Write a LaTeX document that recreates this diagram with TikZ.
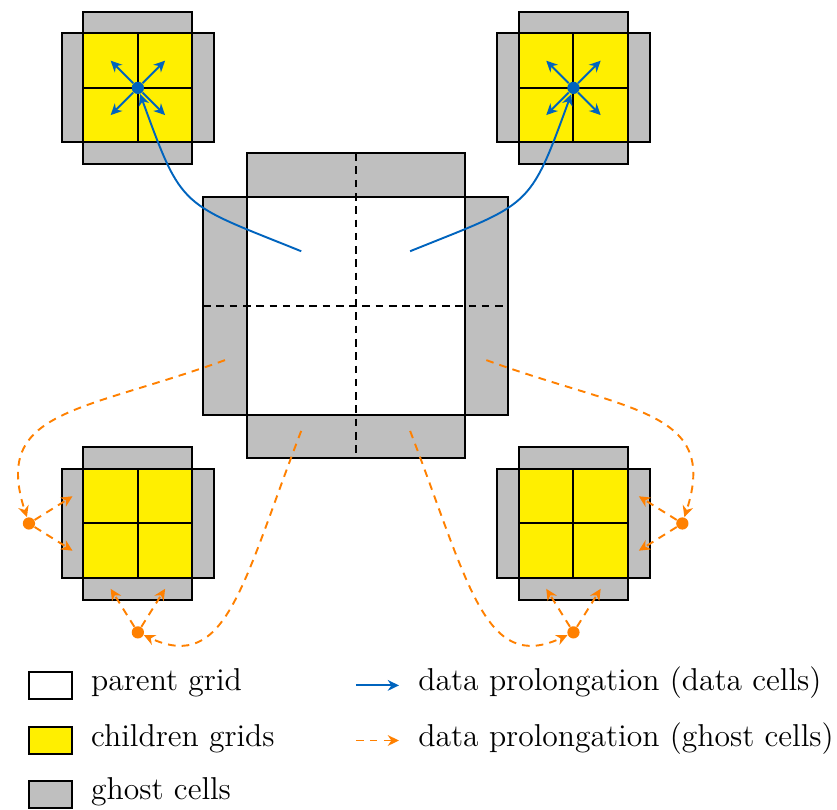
\documentclass[tikz,border=0pt]{standalone}
\usetikzlibrary{arrows.meta,calc}

\definecolor{ghostgray}{RGB}{191,191,191}
\definecolor{childyellow}{RGB}{255,239,0}
\definecolor{prolblue}{RGB}{0,100,190}
\definecolor{prolorange}{RGB}{255,128,0}

\tikzset{
  outline/.style={draw=black, line width=0.8pt},
  ghostcell/.style={outline, fill=ghostgray},
  childcell/.style={outline, fill=childyellow},
  parentcell/.style={outline, fill=white},
  splitline/.style={draw=black, line width=0.8pt, dash pattern=on 3pt off 2.2pt},
  tip/.style={-{Stealth[length=4.4pt,width=4.2pt,inset=1.4pt]}},
  bluearrow/.style={tip, draw=prolblue, line width=0.75pt},
  orangearrow/.style={tip, draw=prolorange, line width=0.75pt, dash pattern=on 3pt off 2.4pt},
  bluedot/.style={circle, fill=prolblue, inner sep=0pt, minimum size=4.8pt},
  orangedot/.style={circle, fill=prolorange, inner sep=0pt, minimum size=4.8pt},
  legbox/.style={outline, minimum width=0.6cm, minimum height=0.375cm, inner sep=0pt},
  legtext/.style={anchor=mid west, inner sep=0pt, font=\fontsize{12.4pt}{15pt}\selectfont},
  childgrid/.pic={
    \path[ghostcell] (-0.5,0.5) rectangle (0.5,0.7);
    \path[ghostcell] (-0.5,-0.7) rectangle (0.5,-0.5);
    \path[ghostcell] (-0.7,-0.5) rectangle (-0.5,0.5);
    \path[ghostcell] (0.5,-0.5) rectangle (0.7,0.5);
    \path[childcell] (-0.5,-0.5) rectangle (0.5,0.5);
    \draw[line width=0.8pt] (0,-0.5) -- (0,0.5) (-0.5,0) -- (0.5,0);
  }
}

\begin{document}
\begin{tikzpicture}[x=1.5cm, y=1.5cm]
\useasboundingbox (-3.266,-4.622) rectangle (4.420,2.807);

% parent grid with its ghost layer
\path[ghostcell] (-1,1) rectangle (1,1.4);
\path[ghostcell] (-1,-1.4) rectangle (1,-1);
\path[ghostcell] (-1.4,-1) rectangle (-1,1);
\path[ghostcell] (1,-1) rectangle (1.4,1);
\path[parentcell] (-1,-1) rectangle (1,1);
\draw[splitline] (0,1.4) -- (0,-1.4);
\draw[splitline] (-1.4,0) -- (1.4,0);

% the four children grids
\pic at (-2,2) {childgrid};
\pic at (2,2) {childgrid};
\pic at (-2,-2) {childgrid};
\pic at (2,-2) {childgrid};

% prolongation of data cells (upper children)
\node[bluedot] (tl) at (-2,2) {};
\node[bluedot] (tr) at (2,2) {};
\foreach \c in {tl,tr}{
  \foreach \dx/\dy [count=\k] in {-1/1,1/1,-1/-1,1/-1}{
    \coordinate (\c-\k) at ($(\c)+(0.25*\dx,0.25*\dy)$);
  }
}
\foreach \c in {tl,tr}{
  \foreach \k in {1,...,4}{
    \draw[bluearrow] (\c) -- (\c-\k);
  }
}
\coordinate (srcTL) at (-0.5,0.5);
\coordinate (srcTR) at (0.5,0.5);
\draw[bluearrow] (srcTL) .. controls +(158:1.2) and +(-70:1.2) .. (tl);
\draw[bluearrow] (srcTR) .. controls +(22:1.2) and +(-110:1.2) .. (tr);

% prolongation of ghost cells (lower children)
\node[orangedot] (blw) at (-3,-2) {};
\node[orangedot] (bls) at (-2,-3) {};
\node[orangedot] (bre) at (3,-2) {};
\node[orangedot] (brs) at (2,-3) {};

\coordinate (gL) at (-1.2,-0.5);
\coordinate (gR) at (1.2,-0.5);
\coordinate (gBL) at (-0.5,-1.15);
\coordinate (gBR) at (0.5,-1.15);
\draw[orangearrow] (gL) .. controls +(200:1.4) and +(108:1.1) .. (blw);
\draw[orangearrow] (gR) .. controls +(-20:1.4) and +(72:1.1) .. (bre);
\draw[orangearrow] (gBL) .. controls +(-111:1.5) and +(-25:0.9) .. (bls);
\draw[orangearrow] (gBR) .. controls +(-69:1.5) and +(-155:0.9) .. (brs);

\coordinate (blw1) at (-2.6,-1.75);
\coordinate (blw2) at (-2.6,-2.25);
\coordinate (bls1) at (-2.25,-2.6);
\coordinate (bls2) at (-1.75,-2.6);
\coordinate (bre1) at (2.6,-1.75);
\coordinate (bre2) at (2.6,-2.25);
\coordinate (brs1) at (1.75,-2.6);
\coordinate (brs2) at (2.25,-2.6);
\foreach \c in {blw,bls,bre,brs}{
  \draw[orangearrow] (\c) -- (\c1);
  \draw[orangearrow] (\c) -- (\c2);
}

% legend
\node[legbox, fill=white] (keyparent) at (-2.803,-3.487) {};
\node[legbox, fill=childyellow] (keychild) at (-2.803,-3.993) {};
\node[legbox, fill=ghostgray] (keyghost) at (-2.803,-4.488) {};
\node[legtext] (txtparent) at (-2.433,-3.487) {parent grid};
\node[legtext] (txtchild) at (-2.433,-3.993) {children grids};
\node[legtext] (txtghost) at (-2.433,-4.488) {ghost cells};

\coordinate (keyblueA) at (0.003,-3.487);
\coordinate (keyblueB) at (0.398,-3.487);
\coordinate (keyorangeA) at (0.003,-3.993);
\coordinate (keyorangeB) at (0.398,-3.993);
\draw[bluearrow] (keyblueA) -- (keyblueB);
\draw[orangearrow] (keyorangeA) -- (keyorangeB);
\node[legtext] (txtblue) at (0.572,-3.487) {data prolongation (data cells)};
\node[legtext] (txtorange) at (0.572,-3.993) {data prolongation (ghost cells)};
\end{tikzpicture}
\end{document}
